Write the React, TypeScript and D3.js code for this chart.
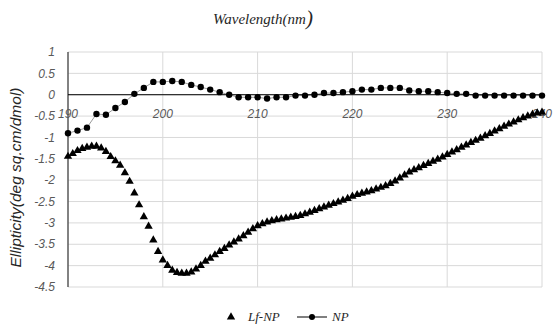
import React from "react";
import * as d3 from "d3";

// wavelength (nm) for each series
const npWavelengths = d3.range(190, 241, 1);
const lfWavelengths = d3.range(0, 101).map(i => 190 + i * 0.5);

const npValues = [
  -0.9, -0.84, -0.77, -0.45, -0.47, -0.31, -0.17, 0.02, 0.16, 0.3,
  0.3, 0.32, 0.3, 0.23, 0.18, 0.12, 0.06, 0.0, -0.06, -0.06,
  -0.06, -0.09, -0.06, -0.06, -0.02, -0.02, 0.0, 0.04, 0.04, 0.06,
  0.08, 0.12, 0.12, 0.16, 0.16, 0.16, 0.1, 0.08, 0.08, 0.06,
  0.04, 0.02, 0.02, -0.02, -0.02, -0.02, -0.02, -0.02, -0.02, -0.02,
  -0.02,
];

const lfValues = [
  -1.445, -1.38, -1.31, -1.26, -1.23, -1.21, -1.21, -1.25, -1.33, -1.45,
  -1.55, -1.65, -1.83, -2.03, -2.3, -2.58, -2.86, -3.08, -3.4, -3.67,
  -3.87, -4.0, -4.11, -4.16, -4.18, -4.18, -4.15, -4.08, -4.0, -3.9,
  -3.83, -3.75, -3.67, -3.6, -3.52, -3.45, -3.38, -3.3, -3.22, -3.14,
  -3.07, -3.02, -2.98, -2.95, -2.93, -2.91, -2.89, -2.87, -2.85, -2.83,
  -2.79, -2.75, -2.71, -2.67, -2.63, -2.59, -2.55, -2.51, -2.47, -2.43,
  -2.38, -2.34, -2.31, -2.28, -2.25, -2.21, -2.17, -2.13, -2.08, -2.02,
  -1.95, -1.88, -1.81, -1.76, -1.71, -1.66, -1.61, -1.56, -1.51, -1.46,
  -1.4, -1.34, -1.29, -1.23, -1.18, -1.12, -1.07, -1.02, -0.96, -0.91,
  -0.85, -0.8, -0.74, -0.69, -0.64, -0.59, -0.54, -0.5, -0.46, -0.43,
  -0.41,
];

const xTicks = [190, 200, 210, 220, 230, 240];
const yTicks = [1, 0.5, 0, -0.5, -1, -1.5, -2, -2.5, -3, -3.5, -4, -4.5];

const W = 554, H = 324;
const m = { left: 68, right: 12, top: 52, bottom: 37 };

export default function App() {
  const x = d3.scaleLinear().domain([190, 240]).range([m.left, W - m.right]);
  const y = d3.scaleLinear().domain([-4.5, 1]).range([H - m.bottom, m.top]);
  const npLine = d3.line<number>().x((_, i) => x(npWavelengths[i])).y(d => y(d));
  const tri = d3.symbol(d3.symbolTriangle, 30)();
  const tickFont = { fontFamily: "'Liberation Sans', Arial, sans-serif", fontStyle: "italic", fontSize: 12, fill: "#595959" };
  const serif = "'Liberation Serif', 'Times New Roman', serif";

  return (
    <svg width={W} height={H} style={{ position: "absolute", left: 0, top: 0 }}>
      <rect width={W} height={H} fill="#fff" />
      {yTicks.map(t => (
        <line key={"gy" + t} x1={m.left} x2={W - m.right} y1={y(t)} y2={y(t)} stroke="#d9d9d9" />
      ))}
      {xTicks.slice(1).map(t => (
        <line key={"gx" + t} x1={x(t)} x2={x(t)} y1={m.top} y2={H - m.bottom} stroke="#d9d9d9" />
      ))}
      <line x1={m.left} x2={m.left} y1={m.top} y2={H - m.bottom} stroke="#595959" strokeWidth={1.5} />
      <line x1={m.left} x2={W - m.right} y1={y(0)} y2={y(0)} stroke="#000" />
      {yTicks.map(t => (
        <text key={"ty" + t} x={m.left - 13} y={y(t)} dy="0.35em" textAnchor="end" {...tickFont}>
          {t < 0 ? "-" + Math.abs(t) : t}
        </text>
      ))}
      {xTicks.map(t => (
        <text key={"tx" + t} x={x(t)} y={y(0) + 23} textAnchor="middle" {...tickFont}>{t}</text>
      ))}
      <path d={npLine(npValues) || ""} fill="none" stroke="#000" strokeWidth={0.4} />
      {npValues.map((v, i) => (
        <circle key={"np" + i} cx={x(npWavelengths[i])} cy={y(v)} r={3.2} fill="#000" />
      ))}
      {lfValues.map((v, i) => (
        <path key={"lf" + i} d={tri || ""} transform={`translate(${x(lfWavelengths[i])},${y(v)})`} fill="#000" />
      ))}
      <text x={263} y={24} textAnchor="middle" fontFamily={serif} fontStyle="italic" fontSize={15} fill="#262626">
        Wavelength(nm<tspan fontSize={21} dy={1}>)</tspan>
      </text>
      <text transform={`translate(21,${(m.top + H - m.bottom) / 2 + 8}) rotate(-90)`} textAnchor="middle"
        fontFamily="'Liberation Sans', Arial, sans-serif" fontStyle="italic" fontSize={15.5} fill="#262626">
        Ellipticity(deg sq.cm/dmol)
      </text>
      <path d={tri || ""} transform="translate(231,317)" fill="#000" />
      <text x={248} y={321} fontFamily={serif} fontStyle="italic" fontSize={13} fill="#262626">Lf-NP</text>
      <line x1={297} x2={327} y1={317} y2={317} stroke="#000" />
      <circle cx={312} cy={317} r={3} fill="#000" />
      <text x={332} y={321} fontFamily={serif} fontStyle="italic" fontSize={13} fill="#262626">NP</text>
    </svg>
  );
}
